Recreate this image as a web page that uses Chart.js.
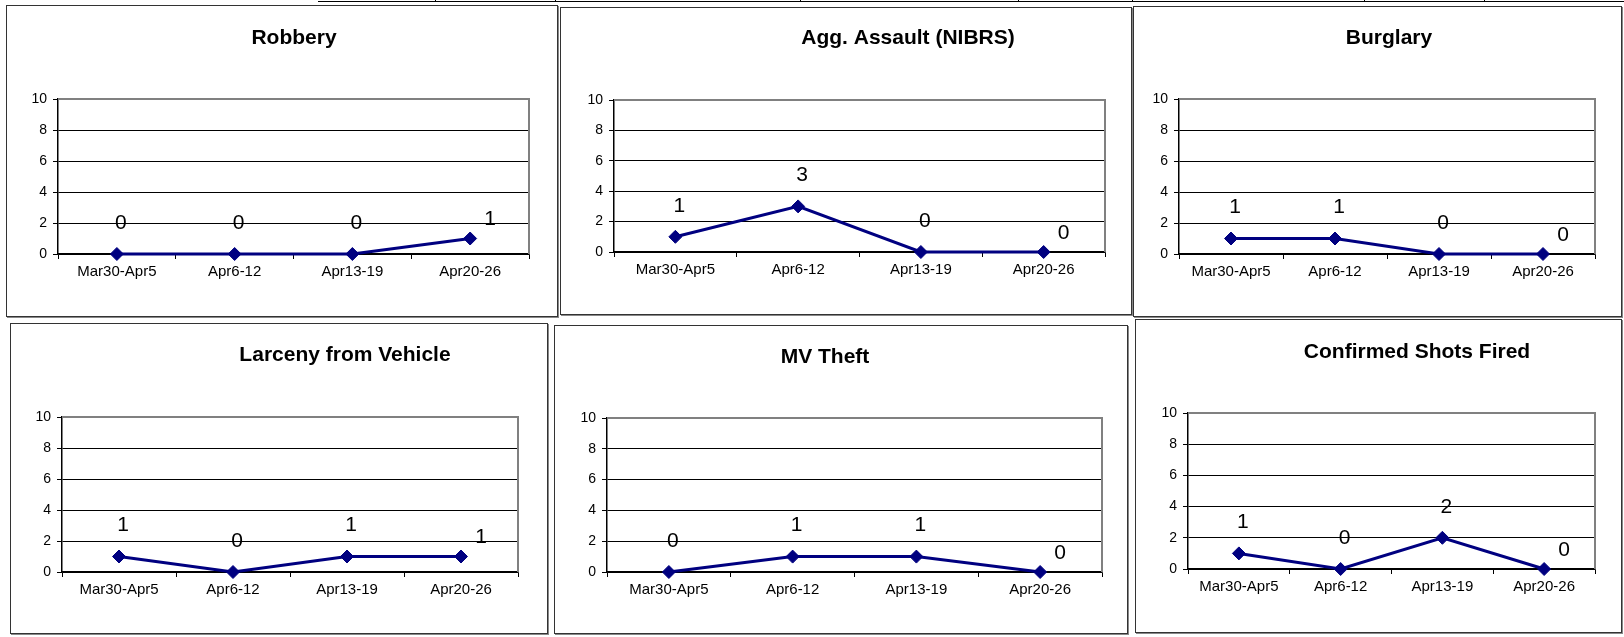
<!DOCTYPE html>
<html>
<head>
<meta charset="utf-8">
<script src="https://cdn.jsdelivr.net/npm/chart.js@4.4.1/dist/chart.umd.min.js"></script>
<style>
  html, body { margin: 0; padding: 0; background: #fff; }
  body { width: 1624px; height: 637px; position: relative; overflow: hidden; font-family: "Liberation Sans", Arial, sans-serif; }
  .panel { position: absolute; box-sizing: border-box; border: 1px solid #333; box-shadow: 1px 1px 0 #888; background: #fff; }
  .panel canvas { position: absolute; left: 0; top: 0; }
  .rule { position: absolute; background: #000; }
</style>
</head>
<body>
<script>
// weekly counts
var categories = ["Mar30-Apr5", "Apr6-12", "Apr13-19", "Apr20-26"];
var titles = ["Robbery", "Agg. Assault (NIBRS)", "Burglary", "Larceny from Vehicle", "MV Theft", "Confirmed Shots Fired"];
var robbery = [0, 0, 0, 1];
var aggAssault = [1, 3, 0, 0];
var burglary = [1, 1, 0, 0];
var larcenyFromVehicle = [1, 0, 1, 1];
var mvTheft = [0, 1, 1, 0];
var shotsFired = [1, 0, 2, 0];
var yTicks = [0, 2, 4, 6, 8, 10];

var navy = "#000080";

// page layout: panel box, plot area, title centre (page pixels)
var panels = [
  { title: titles[0], data: robbery,            box: [6, 5, 558, 317],     plot: [58, 99, 529, 254],    tx: 294,  ty: 38 },
  { title: titles[1], data: aggAssault,         box: [560, 7, 1132, 315],  plot: [614, 100, 1105, 252], tx: 908,  ty: 38 },
  { title: titles[2], data: burglary,           box: [1133, 6, 1622, 317], plot: [1179, 99, 1595, 254], tx: 1389, ty: 38 },
  { title: titles[3], data: larcenyFromVehicle, box: [10, 323, 548, 634],  plot: [62, 417, 518, 572],   tx: 345,  ty: 355 },
  { title: titles[4], data: mvTheft,            box: [554, 325, 1128, 634], plot: [607, 418, 1102, 572], tx: 825, ty: 357 },
  { title: titles[5], data: shotsFired,         box: [1135, 319, 1622, 633], plot: [1188, 413, 1595, 569], tx: 1417, ty: 352 }
];

// bits of the table above the charts
var topLine = document.createElement("div");
topLine.className = "rule";
topLine.style.cssText = "left:318px;top:1px;width:1306px;height:1px;";
document.body.appendChild(topLine);
[435, 555, 800, 1018, 1132, 1364, 1484].forEach(function (x) {
  var v = document.createElement("div");
  v.className = "rule";
  v.style.cssText = "left:" + x + "px;top:0;width:1px;height:2px;";
  document.body.appendChild(v);
});

var Y_W = 40, X_H = 40;

var framePlugin = {
  id: "frame",
  beforeDatasetsDraw: function (chart) {
    var a = chart.chartArea, ctx = chart.ctx;
    ctx.save();
    ctx.strokeStyle = "#808080";
    ctx.lineWidth = 2;
    ctx.beginPath();
    ctx.moveTo(a.left, a.top);
    ctx.lineTo(a.right, a.top);
    ctx.lineTo(a.right, a.bottom);
    ctx.stroke();
    ctx.restore();
  }
};

var labelPlugin = {
  id: "pointLabels",
  afterDatasetsDraw: function (chart) {
    var ctx = chart.ctx;
    var meta = chart.getDatasetMeta(0);
    var vals = chart.data.datasets[0].data;
    ctx.save();
    ctx.font = "21px 'Liberation Sans', Arial, sans-serif";
    ctx.fillStyle = "#000";
    ctx.textAlign = "center";
    ctx.textBaseline = "middle";
    meta.data.forEach(function (pt, i) {
      var last = i === meta.data.length - 1;
      ctx.fillText(String(vals[i]), pt.x + (last ? 20 : 4), pt.y - (last ? 19 : 31));
    });
    ctx.restore();
  }
};

var titlePlugin = {
  id: "panelTitle",
  afterDraw: function (chart, args, opts) {
    var ctx = chart.ctx;
    ctx.save();
    ctx.font = "bold 21px 'Liberation Sans', Arial, sans-serif";
    ctx.fillStyle = "#000";
    ctx.textAlign = "center";
    ctx.textBaseline = "middle";
    ctx.fillText(opts.text, opts.x, opts.y);
    ctx.restore();
  }
};

panels.forEach(function (p) {
  var l = p.box[0], t = p.box[1], r = p.box[2], b = p.box[3];
  var div = document.createElement("div");
  div.className = "panel";
  div.style.left = l + "px";
  div.style.top = t + "px";
  div.style.width = (r - l) + "px";
  div.style.height = (b - t) + "px";
  var cv = document.createElement("canvas");
  var cw = r - l - 2, ch = b - t - 2;
  cv.width = cw; cv.height = ch;
  cv.style.width = cw + "px"; cv.style.height = ch + "px";
  div.appendChild(cv);
  document.body.appendChild(div);

  var ox = l + 1, oy = t + 1;

  new Chart(cv, {
    type: "line",
    data: {
      labels: categories,
      datasets: [{
        data: p.data,
        borderColor: navy,
        borderWidth: 3,
        backgroundColor: navy,
        pointStyle: "rectRot",
        pointRadius: 6.5,
        pointBorderWidth: 1,
        pointBackgroundColor: navy,
        pointBorderColor: navy,
        tension: 0,
        clip: false
      }]
    },
    options: {
      responsive: false,
      animation: false,
      events: [],
      layout: {
        autoPadding: false,
        padding: {
          left: p.plot[0] - ox - Y_W,
          top: p.plot[1] - oy,
          right: (r - 1) - p.plot[2],
          bottom: (b - 1) - p.plot[3] - X_H
        }
      },
      plugins: {
        legend: { display: false },
        tooltip: { enabled: false },
        title: { display: false },
        panelTitle: { text: p.title, x: p.tx - ox, y: p.ty - oy }
      },
      scales: {
        x: {
          offset: true,
          afterFit: function (s) { s.height = X_H; },
          grid: { offset: true, drawOnChartArea: false, drawTicks: true, tickLength: 5, color: "#000", lineWidth: 1 },
          border: { display: true, color: "#000", width: 1.5 },
          ticks: { color: "#000", padding: 4, maxRotation: 0, autoSkip: false,
                   font: { family: "'Liberation Sans', Arial, sans-serif", size: 15 } }
        },
        y: {
          min: 0, max: 10,
          afterFit: function (s) { s.width = Y_W; },
          afterBuildTicks: function (s) { s.ticks = yTicks.map(function (v) { return { value: v }; }); },
          grid: { color: "#000", lineWidth: 1, drawTicks: true, tickLength: 5 },
          border: { display: true, color: "#000", width: 1.5 },
          ticks: { color: "#000", padding: 6,
                   font: { family: "'Liberation Sans', Arial, sans-serif", size: 14 } }
        }
      }
    },
    plugins: [framePlugin, labelPlugin, titlePlugin]
  });
});
</script>
</body>
</html>
